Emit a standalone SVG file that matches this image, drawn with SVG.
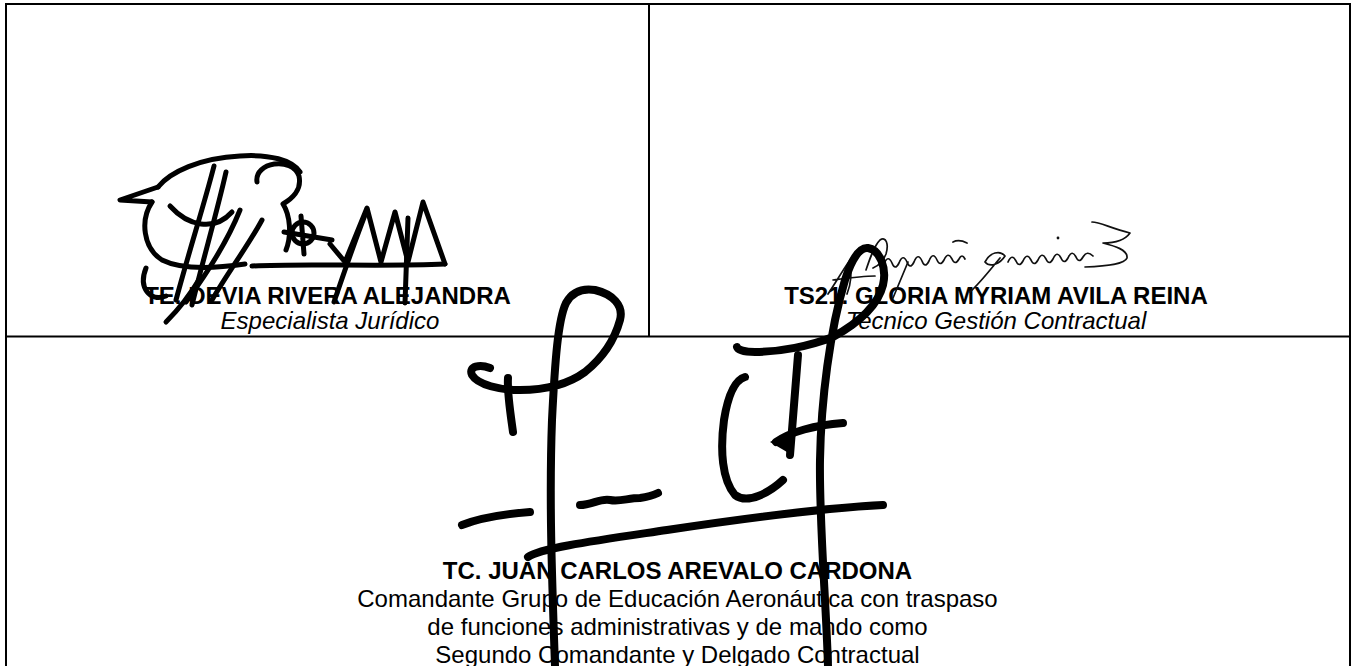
<svg xmlns="http://www.w3.org/2000/svg" width="1351" height="666" viewBox="0 0 1351 666">
<style>
.frame{stroke:#000;stroke-width:2;fill:none}
.name{font-family:"Liberation Sans",Arial,sans-serif;font-size:24px;font-weight:bold;fill:#000;text-anchor:middle}
.role{font-family:"Liberation Sans",Arial,sans-serif;font-size:24px;font-style:italic;fill:#000;text-anchor:middle}
.desc{font-family:"Liberation Sans",Arial,sans-serif;font-size:24px;fill:#000;text-anchor:middle}
.sig1{stroke:#000;stroke-width:5;fill:none;stroke-linecap:round;stroke-linejoin:round}
.sig2{stroke:#111;stroke-width:1.7;fill:none;stroke-linecap:round;stroke-linejoin:round}
.sig3{stroke:#000;stroke-width:8;fill:none;stroke-linecap:round;stroke-linejoin:round}
</style>
<rect width="1351" height="666" fill="#fff"/>
<g id="frame">
<path class="frame" d="M6,666 V4 H1350 V666"/>
<path class="frame" d="M649,4 V336.5"/>
<path class="frame" d="M6,336.5 H1350"/>
</g>
<g id="cell-left">
<text class="name" x="327.5" y="304">TE. DEVIA RIVERA ALEJANDRA</text>
<text class="role" x="330" y="329">Especialista Jurídico</text>
</g>
<g id="cell-right">
<text class="name" x="996" y="304">TS21. GLORIA MYRIAM AVILA REINA</text>
<text class="role" x="996" y="329">Tecnico Gestión Contractual</text>
</g>
<g id="cell-bottom">
<text class="name" x="677.5" y="579">TC. JUAN CARLOS AREVALO CARDONA</text>
<text class="desc" x="677.5" y="607">Comandante Grupo de Educación Aeronáutica con traspaso</text>
<text class="desc" x="677.5" y="635">de funciones administrativas y de mando como</text>
<text class="desc" x="677.5" y="663">Segundo Comandante y Delgado Contractual</text>
</g>
<g id="signature-left">
<path class="sig1" d="M158,187 L120,200 L152,202"/>
<path class="sig1" d="M158,187 C170,172 200,158 240,156 C270,154 292,160 300,172"/>
<path class="sig1" d="M257,182 C254,162 292,156 299,176 C302,190 293,198 283,204 C290,215 292,235 286,250"/>
<path class="sig1" d="M152,202 C140,220 143,248 162,260 C182,270 218,268 245,264"/>
<path class="sig1" d="M214,166 C204,205 190,248 176,300"/>
<path class="sig1" d="M226,172 C217,212 204,256 192,305"/>
<path class="sig1" d="M240,210 C228,240 208,272 186,302"/>
<path class="sig1" d="M262,220 C248,246 228,272 212,300"/>
<path class="sig1" d="M170,206 C188,226 214,232 232,212"/>
<path class="sig1" d="M146,268 C138,288 150,302 166,296"/>
<path class="sig1" d="M200,278 C190,295 178,310 166,322"/>
<circle class="sig1" cx="303" cy="233" r="11"/>
<path class="sig1" d="M284,232 L332,240 M301,216 L304,254"/>
<path class="sig1" d="M252,266 C300,263 380,267 445,264"/>
<path class="sig1" d="M330,244 L345,262 L367,208 L381,262 L395,212 L408,262 L423,202 L445,264"/>
<path class="sig1" d="M367,210 C355,240 345,270 334,302"/>
<path class="sig1" d="M408,218 C407,250 406,280 405,303"/>
</g>
<g id="signature-right">
<path class="sig2" d="M828,294 C836,282 843,270 850,260 C852,272 851,284 847,294 M833,280 C848,278 862,276 875,276"/>
<path class="sig2" d="M866,270 C870,258 874,246 880,240 C886,236 889,244 886,254 C883,262 878,266 873,268"/>
<path class="sig2" d="M884,264 q4,-10 8,-1 q3,8 7,0 q4,-10 8,-1 q3,8 7,0 q4,-10 8,-1 q3,8 7,0 q4,-10 8,-1 q3,7 7,0 q4,-9 8,-1 q3,7 7,0 q3,-6 6,0"/>
<path class="sig2" d="M953,242 q6,-3 14,1"/>
<path class="sig2" d="M985,262 C990,252 1000,250 1005,256 C1000,264 990,268 985,262 M1000,258 C990,270 980,283 970,292"/>
<path class="sig2" d="M1008,262 q4,-9 8,-1 q3,7 7,0 q4,-9 8,-1 q3,7 7,0 q4,-9 8,-1 q3,7 7,0 q4,-9 8,-1 q3,7 7,0 q4,-9 8,-1 q3,7 7,0 q4,-7 10,-1"/>
<circle cx="1058" cy="238" r="1.4" fill="#111"/>
<path class="sig2" d="M1092,222 C1100,222 1110,228 1130,233 C1125,240 1115,243 1103,243 C1115,246 1128,250 1127,258 C1125,264 1108,266 1085,267"/>
<path class="sig2" d="M893,298 L908,262"/>
</g>
<g id="signature-bottom">
<path class="sig3" d="M555,666 C552,580 549,500 552,420 C555,360 558,320 566,303 C572,292 582,288 595,290 C612,294 624,305 620,320 C614,342 600,360 585,372 C570,383 548,390 520,390 C500,390 478,385 472,375 C468,366 480,364 490,368"/>
<path class="sig3" d="M508,378 C507,392 510,410 513,432"/>
<path class="sig3" d="M462,525 C480,518 505,514 530,512"/>
<path class="sig3" d="M580,505 C592,505 600,498 610,500 C620,502 628,498 640,498 C648,497 652,496 658,493"/>
<path class="sig3" d="M528,557 C540,548 600,540 667,530 S820,508 883,505"/>
<path class="sig3" d="M745,377 C735,380 728,395 724,420 C720,450 722,480 735,495 C748,505 770,492 783,480"/>
<path class="sig3" d="M798,355 L790,455"/>
<path class="sig3" d="M776,442 C790,432 815,425 843,423"/>
<path d="M770,442 L792,430 L792,455 Z" fill="#000"/>
<path class="sig3" d="M828,666 C826,600 819,520 820,460 C821,400 830,330 845,280 C852,258 860,247 868,248 C880,250 887,268 883,285 C878,305 860,322 833,337 C810,346 780,352 755,352 C745,352 738,350 737,347"/>
</g>
</svg>
